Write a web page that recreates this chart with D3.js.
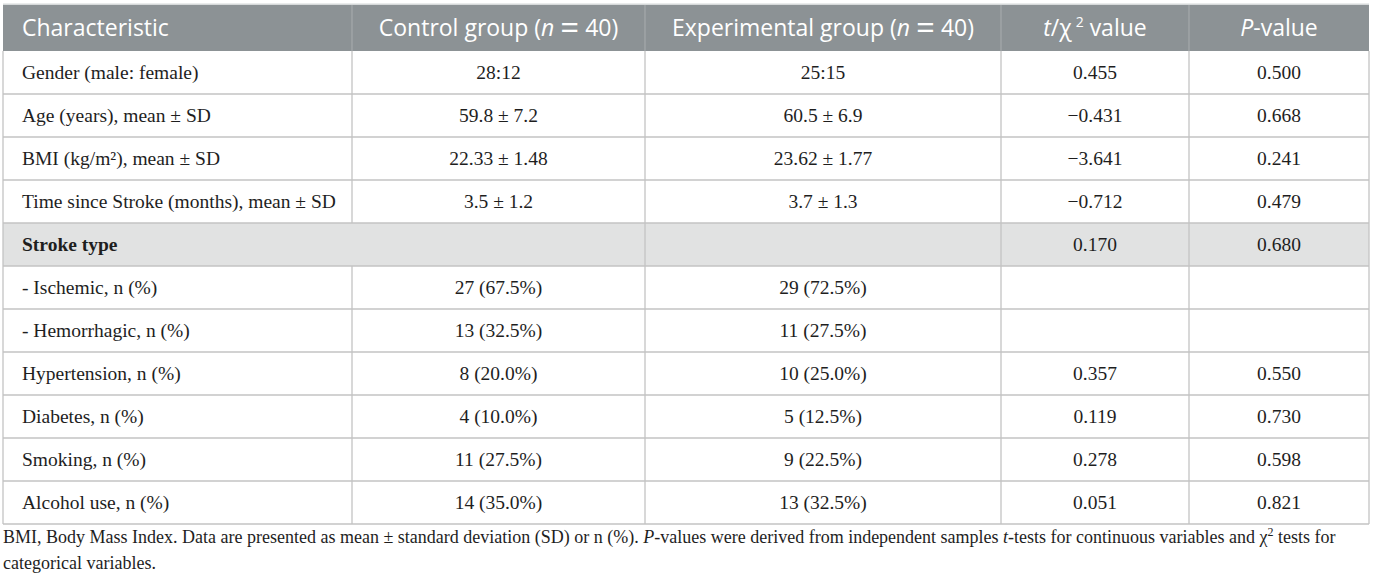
<!DOCTYPE html>
<html>
<head>
<meta charset="utf-8">
<script src="https://cdn.jsdelivr.net/npm/d3@7"></script>
<style>
  html, body { margin: 0; padding: 0; background: #fff; }
  svg { display: block; }
</style>
</head>
<body>
<svg id="chart" width="1375" height="581"></svg>
<script>
// table contents
var characteristics = [
  "Gender (male: female)",
  "Age (years), mean \u00b1 SD",
  "BMI (kg/m\u00b2), mean \u00b1 SD",
  "Time since Stroke (months), mean \u00b1 SD",
  "Stroke type",
  "- Ischemic, n (%)",
  "- Hemorrhagic, n (%)",
  "Hypertension, n (%)",
  "Diabetes, n (%)",
  "Smoking, n (%)",
  "Alcohol use, n (%)"
];
var controlValues = ["28:12", "59.8 \u00b1 7.2", "22.33 \u00b1 1.48", "3.5 \u00b1 1.2", "", "27 (67.5%)", "13 (32.5%)", "8 (20.0%)", "4 (10.0%)", "11 (27.5%)", "14 (35.0%)"];
var experimentalValues = ["25:15", "60.5 \u00b1 6.9", "23.62 \u00b1 1.77", "3.7 \u00b1 1.3", "", "29 (72.5%)", "11 (27.5%)", "10 (25.0%)", "5 (12.5%)", "9 (22.5%)", "13 (32.5%)"];
var testValues = ["0.455", "\u22120.431", "\u22123.641", "\u22120.712", "0.170", "", "", "0.357", "0.119", "0.278", "0.051"];
var pValues = ["0.500", "0.668", "0.241", "0.479", "0.680", "", "", "0.550", "0.730", "0.598", "0.821"];
var groupRows = ["Stroke type"];

var colEdges = [3, 352, 645, 1001, 1189, 1369];
var headerTop = 5, headerBottom = 51, tableBottom = 524;

var svg = d3.select("#chart");
var y = d3.scaleBand().domain(characteristics).range([headerBottom, tableBottom]);
var columns = [controlValues, experimentalValues, testValues, pValues];

// header band
svg.append("rect").attr("x", colEdges[0]).attr("y", headerTop - 1.5).attr("width", colEdges[5] - colEdges[0]).attr("height", 1.5).attr("fill", "#d6d9da");
svg.append("rect").attr("x", colEdges[0]).attr("y", headerTop).attr("width", colEdges[5] - colEdges[0]).attr("height", headerBottom - headerTop).attr("fill", "#8c9295");

var head = svg.append("g").attr("font-family", "'Open Sans', sans-serif").attr("font-size", 23).attr("fill", "#fff");
var hy = (headerTop + headerBottom) / 2 + 8;
head.append("text").attr("x", 22).attr("y", hy).text("Characteristic");
function nHeader(label, cx) {
  var t = head.append("text").attr("x", cx).attr("y", hy).attr("text-anchor", "middle");
  t.append("tspan").text(label + " (");
  t.append("tspan").attr("font-style", "italic").text("n");
  t.append("tspan").text(" ");
  t.append("tspan").attr("font-size", 33).attr("dy", 3).text("=");
  t.append("tspan").attr("dy", -3).text(" 40)");
}
nHeader("Control group", (colEdges[1] + colEdges[2]) / 2);
nHeader("Experimental group", (colEdges[2] + colEdges[3]) / 2);
var th = head.append("text").attr("x", (colEdges[3] + colEdges[4]) / 2).attr("y", hy).attr("text-anchor", "middle");
th.append("tspan").attr("font-style", "italic").text("t");
th.append("tspan").text("/\u03c7\u2009");
th.append("tspan").attr("font-size", 14).attr("dy", -9).text("2");
th.append("tspan").attr("dy", 9).text(" value");
var ph = head.append("text").attr("x", (colEdges[4] + colEdges[5]) / 2).attr("y", hy).attr("text-anchor", "middle");
ph.append("tspan").attr("font-style", "italic").text("P");
ph.append("tspan").text("-value");

// group row shading
svg.append("g").selectAll("rect").data(groupRows).join("rect")
  .attr("x", colEdges[0]).attr("y", function (d) { return y(d); })
  .attr("width", colEdges[5] - colEdges[0]).attr("height", y.bandwidth())
  .attr("fill", "#e1e2e2");

// grid lines
var grid = svg.append("g").attr("stroke", "#c3c3c3").attr("stroke-width", 1.3);
grid.selectAll("line.h").data(characteristics).join("line").attr("class", "h")
  .attr("x1", colEdges[0]).attr("x2", colEdges[5])
  .attr("y1", function (d) { return y(d) + y.bandwidth(); })
  .attr("y2", function (d) { return y(d) + y.bandwidth(); });
characteristics.forEach(function (c) {
  colEdges.forEach(function (x, i) {
    if (groupRows.indexOf(c) >= 0 && i === 1) return;
    grid.append("line").attr("x1", x).attr("x2", x)
      .attr("y1", y(c)).attr("y2", y(c) + y.bandwidth());
  });
});
// header dividers
colEdges.slice(1, 5).forEach(function (x) {
  svg.append("line").attr("x1", x).attr("x2", x).attr("y1", headerTop).attr("y2", headerBottom)
    .attr("stroke", "#a3a8aa").attr("stroke-width", 1.3);
});

// body text
var body = svg.append("g").attr("font-family", "'Liberation Serif', 'Times New Roman', serif").attr("font-size", 19.5).attr("fill", "#1e1e1e");
body.selectAll("text.label").data(characteristics).join("text").attr("class", "label")
  .attr("x", 22)
  .attr("y", function (d) { return y(d) + y.bandwidth() / 2 + 6.5; })
  .attr("font-weight", function (d) { return groupRows.indexOf(d) >= 0 ? "bold" : null; })
  .text(function (d) { return d; });
columns.forEach(function (vals, ci) {
  body.selectAll("text.c" + ci).data(vals).join("text").attr("class", "c" + ci)
    .attr("x", (colEdges[ci + 1] + colEdges[ci + 2]) / 2)
    .attr("y", function (d, i) { return y(characteristics[i]) + y.bandwidth() / 2 + 6.5; })
    .attr("text-anchor", "middle")
    .text(function (d) { return d; });
});

// footnote
var foot = svg.append("g").attr("font-family", "'Liberation Serif', 'Times New Roman', serif").attr("font-size", 18).attr("fill", "#1e1e1e");
var f1 = foot.append("text").attr("x", 3).attr("y", 543);
f1.append("tspan").text("BMI, Body Mass Index. Data are presented as mean \u00b1 standard deviation (SD) or n (%). ");
f1.append("tspan").attr("font-style", "italic").text("P");
f1.append("tspan").text("-values were derived from independent samples ");
f1.append("tspan").attr("font-style", "italic").text("t");
f1.append("tspan").text("-tests for continuous variables and \u03c7");
f1.append("tspan").attr("font-size", 12).attr("dy", -7).text("2");
f1.append("tspan").attr("dy", 7).text(" tests for");
foot.append("text").attr("x", 3).attr("y", 569).text("categorical variables.");
</script>
</body>
</html>
